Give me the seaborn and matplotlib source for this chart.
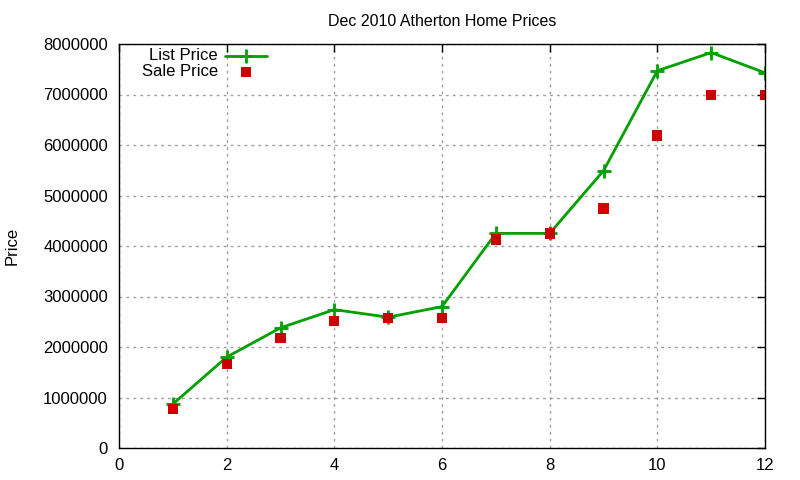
import numpy as np
import pandas as pd
import matplotlib
matplotlib.use("Agg")
import matplotlib.pyplot as plt
import seaborn as sns
from matplotlib.ticker import FuncFormatter

# data
home = [1, 2, 3, 4, 5, 6, 7, 8, 9, 10, 11, 12]
list_price = [870000, 1800000, 2380000, 2740000, 2590000, 2800000,
              4250000, 4250000, 5490000, 7470000, 7830000, 7430000]
sale_price = [770000, 1670000, 2180000, 2520000, 2580000, 2580000,
              4130000, 4250000, 4740000, 6190000, 6990000, 6990000]

GREEN = "#00a000"
RED = "#cc0000"

df = pd.DataFrame({"home": home, "list": list_price, "sale": sale_price})

sns.set_style("white")
plt.rcParams["font.family"] = ["Liberation Sans", "DejaVu Sans"]

W, H = 800, 480
fig = plt.figure(figsize=(8, 4.8), dpi=100)
ax = fig.add_axes([119 / W, 1 - 448 / H, (765 - 119) / W, (448 - 44) / H])

sns.lineplot(data=df, x="home", y="list", ax=ax, color=GREEN,
             linewidth=2, marker="+", markersize=10, markeredgewidth=2,
             markeredgecolor=GREEN, legend=False)
sns.scatterplot(data=df, x="home", y="sale", ax=ax, color=RED,
                marker="s", s=55, edgecolor="none", legend=False,
                zorder=3)

ax.set_xlim(0, 12)
ax.set_ylim(0, 8000000)
ax.set_xticks(range(0, 13, 2))
ax.set_yticks(range(0, 8000001, 1000000))
ax.yaxis.set_major_formatter(FuncFormatter(lambda v, p: f"{int(v)}"))
ax.tick_params(direction="in", length=6, top=True, right=True,
               labelsize=12, colors="black", width=1, pad=8)
ax.tick_params(axis="x", pad=7)
for s in ax.spines.values():
    s.set_color("black")
    s.set_linewidth(1)

ax.grid(True, color="#a0a0a0", linestyle=(0, (2, 3)), linewidth=1)
ax.set_axisbelow(True)

ax.set_xlabel("")
ax.set_ylabel("")
fig.text(12 / W, 1 - 246 / H, "Price", rotation=90, ha="center",
         va="center", fontsize=12, color="black")
ax.set_title("Dec 2010 Atherton Home Prices", fontsize=11.5, pad=13,
             color="black")

# gnuplot style key: text right aligned, sample on the right
def px(x, y):
    return ((x - 119) / (765 - 119), (448 - y) / (448 - 44))

tx, ty = px(218, 56)
ax.text(tx, ty, "List Price", transform=ax.transAxes, ha="right",
        va="center", fontsize=12, color="black")
tx, ty = px(218, 71)
ax.text(tx, ty, "Sale Price", transform=ax.transAxes, ha="right",
        va="center", fontsize=12, color="black")
x0, yl = px(225, 56)
x1, _ = px(267, 56)
xm, ys = px(246, 72)
ax.plot([x0, x1], [yl, yl], transform=ax.transAxes, color=GREEN,
        linewidth=2, clip_on=False)
ax.plot([xm], [yl], transform=ax.transAxes, color=GREEN, marker="+",
        markersize=10, markeredgewidth=2, clip_on=False)
ax.plot([xm], [ys], transform=ax.transAxes, color=RED, marker="s",
        markersize=7.5, markeredgewidth=0, linestyle="none", clip_on=False)

fig.savefig("out.png", dpi=100)
